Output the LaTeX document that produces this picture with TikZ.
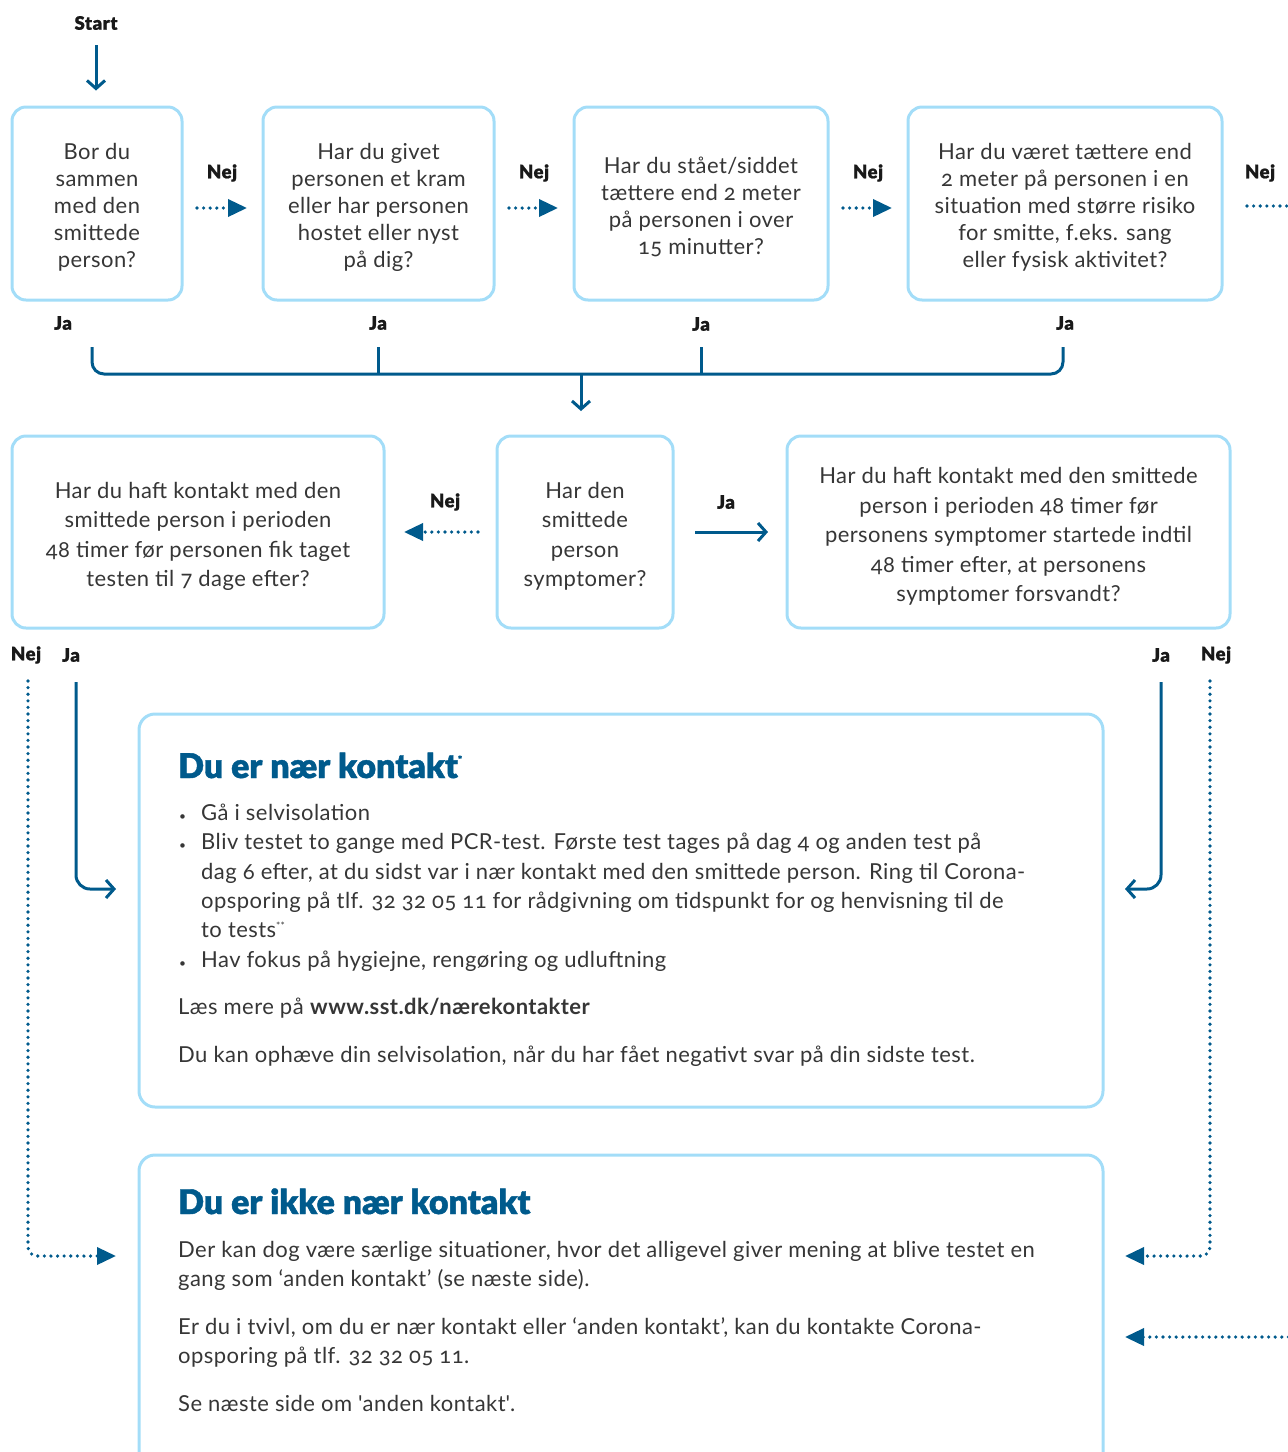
\documentclass[tikz,border=0pt]{standalone}
\usepackage{fontspec}
\setmainfont{Lato}[Numbers=OldStyle, LetterSpace=2]
\newfontfamily\heavyfont{Lato}[UprightFont={* Black}, FakeBold=1.3, Numbers=OldStyle]
\newfontfamily\lblfont{Lato}[UprightFont={* Black}, FakeBold=1.0, LetterSpace=3]
\usetikzlibrary{arrows.meta}
\definecolor{dblue}{HTML}{005A8C}
\definecolor{lblue}{HTML}{A3DDF8}
\definecolor{txt}{HTML}{363636}
\newcommand\tst{\rule{0pt}{24pt}}
\newcommand\tstb{\rule{0pt}{25pt}}
\begin{document}
\begin{tikzpicture}[x=1pt,y=-1pt,
 qbox/.style={draw=lblue, line width=3pt, rounded corners=14pt, align=center, text=txt, inner sep=0pt, font=\fontsize{22}{27}\selectfont},
 qbox2/.style={qbox, font=\fontsize{22}{29.5}\selectfont},
 bigbox/.style={draw=lblue, line width=3pt, rounded corners=16pt, inner sep=0pt},
 lbl/.style={font=\lblfont\fontsize{18.5}{20}\selectfont, text=black!90, inner sep=0pt},
 dotline/.style={dblue, line width=3.6pt, dash pattern=on 0pt off 6.6pt, line cap=round},
 dots/.style={dotline, -{Triangle[length=19pt,width=17pt]}},
 sol/.style={dblue, line width=3pt, -{Straight Barb[length=8pt,width=18pt]}},
 ln/.style={anchor=base west, inner sep=0pt, text=txt, font=\fontsize{22}{24}\selectfont},
 ttl/.style={anchor=base west, inner sep=0pt, text=dblue, font=\heavyfont\fontsize{34}{38}\selectfont},
]
\useasboundingbox (0,0) rectangle (1288,1452);

% ---- top row
\node[lbl] (start) at (96,23) {Start};
\node[qbox, minimum width=170pt, minimum height=193pt] (b1) at (97,203.5) {\tst Bor du\\sammen\\med den\\smittede\\person?};
\node[qbox, minimum width=231pt, minimum height=193pt] (b2) at (378.5,203.5) {\tst Har du givet\\personen et kram\\eller har personen\\hostet eller nyst\\på dig?};
\node[qbox, minimum width=254pt, minimum height=193pt] (b3) at (701,203.5) {\tst Har du stået/siddet\\tættere end 2 meter\\på personen i over\\15 minutter?};
\node[qbox, minimum width=314pt, minimum height=193pt] (b4) at (1065,203.5) {\tst Har du været tættere end\\2 meter på personen i en\\situation med større risiko\\for smitte, f.eks. sang\\eller fysisk aktivitet?};

\coordinate (s0) at (96,45);
\draw[sol] (s0) -- ([yshift=15pt]b1.north -| s0);

\node[lbl] (n1) at (222,173) {Nej};
\node[lbl] (n2) at (534,173) {Nej};
\node[lbl] (n3) at (868,173) {Nej};
\node[lbl] (n4) at (1260,173) {Nej};
\draw[dots] ([xshift=13.5pt,yshift=-4.5pt]b1.east) -- ([xshift=-14.5pt,yshift=-4.5pt]b2.west);
\draw[dots] ([xshift=13.5pt,yshift=-4.5pt]b2.east) -- ([xshift=-14.5pt,yshift=-4.5pt]b3.west);
\draw[dots] ([xshift=13.5pt,yshift=-4.5pt]b3.east) -- ([xshift=-14.5pt,yshift=-4.5pt]b4.west);
\coordinate (offr) at (1295,206);
\draw[dotline] ([xshift=23.5pt,yshift=-2.5pt]b4.east) -- (offr);

\node[lbl] (j1) at (63,323) {Ja};
\node[lbl] (j2) at (378,323) {Ja};
\node[lbl] (j3) at (701,324) {Ja};
\node[lbl] (j4) at (1065,323) {Ja};

\coordinate (ja1) at (92,347);
\coordinate (ja2) at (378,347);
\coordinate (ja3) at (701,347);
\coordinate (ja4) at (1063,347);
\coordinate (br) at (581,374);
\coordinate (brend) at (581,411);
\draw[dblue, line width=3pt, rounded corners=12pt] (ja1) -- (92,374) -- (1063,374) -- (ja4);
\draw[dblue, line width=3pt] (ja2) -- (378,374);
\draw[dblue, line width=3pt] (ja3) -- (701,374);

% ---- second row
\node[qbox2, minimum width=372pt, minimum height=192pt] (bl) at (198,532) {\tstb Har du haft kontakt med den\\smittede person i perioden\\48 timer før personen fik taget\\testen til 7 dage efter?};
\node[qbox2, minimum width=176pt, minimum height=192pt] (bm) at (585,532) {\tstb Har den\\smittede\\person\\symptomer?};
\node[qbox2, minimum width=443pt, minimum height=192pt] (bR) at (1008.5,532) {\tstb Har du haft kontakt med den smittede\\person i perioden 48 timer før\\personens symptomer startede indtil\\48 timer efter, at personens\\symptomer forsvandt?};

\draw[sol] (br) -- (brend);
\node[lbl] (n5) at (445,502) {Nej};
\node[lbl] (j5) at (726,502) {Ja};
\draw[dots] ([xshift=-17.5pt]bm.west) -- ([xshift=18.5pt]bl.east);
\draw[sol] ([xshift=20.5pt]bm.east) -- ([xshift=-17.5pt]bR.west);

\node[lbl] (n6) at (26,655) {Nej};
\node[lbl] (j6) at (71,655) {Ja};
\node[lbl] (j7) at (1161,655) {Ja};
\node[lbl] (n7) at (1216,655) {Nej};

% ---- result boxes
\node[bigbox, minimum width=964pt, minimum height=393pt] (k1) at (621,910.5) {};
\node[bigbox, minimum width=964pt, minimum height=320pt] (k2) at (621,1315) {};

\coordinate (nl) at (28,681);
\coordinate (nlend) at (116,1256);
\coordinate (jl) at (76,682);
\coordinate (jlend) at (116,889);
\coordinate (jr) at (1161,682);
\coordinate (jrend) at (1125,889);
\coordinate (nr) at (1210,681);
\coordinate (nrend) at (1125,1256);
\coordinate (offr2) at (1295,1337);
\coordinate (k2in) at (1125,1337);
\draw[dots, rounded corners=9pt] (nl) |- (nlend);
\draw[sol, rounded corners=14pt] (jl) |- (jlend);
\draw[sol, rounded corners=14pt] (jr) |- (jrend);
\draw[dots, rounded corners=9pt] (nr) |- (nrend);
\draw[dots] (offr2) -- (k2in);

% ---- text of box 1
\node[ttl] (t1) at (178,778) {Du er nær kontakt\raisebox{15pt}{\fontsize{10}{10}\selectfont *}};
\node[ln] (u1) at (179,820) {\fontsize{12}{12}\selectfont •};
\node[ln] (u2) at (179,849.5) {\fontsize{12}{12}\selectfont •};
\node[ln] (u3) at (179,967) {\fontsize{12}{12}\selectfont •};
\node[ln] (l1) at (201,820) {Gå i selvisolation};
\node[ln] (l2) at (201,849.5) {Bliv testet to gange med PCR-test. Første test tages på dag 4 og anden test på};
\node[ln] (l3) at (201,879) {dag 6 efter, at du sidst var i nær kontakt med den smittede person. Ring til Corona-};
\node[ln] (l4) at (201,908) {opsporing på tlf. 32 32 05 11 for rådgivning om tidspunkt for og henvisning til de};
\node[ln] (l5) at (201,937.5) {to tests\raisebox{8pt}{\fontsize{10}{10}\selectfont **}};
\node[ln] (l6) at (201,967) {Hav fokus på hygiejne, rengøring og udluftning};
\node[ln] (l7) at (178,1014) {Læs mere på \textbf{www.sst.dk/nærekontakter}};
\node[ln] (l8) at (178,1062) {Du kan ophæve din selvisolation, når du har fået negativt svar på din sidste test.};

% ---- text of box 2
\node[ttl] (t2) at (178,1214) {Du er ikke nær kontakt};
\node[ln] (m1) at (178,1257) {Der kan dog være særlige situationer, hvor det alligevel giver mening at blive testet en};
\node[ln] (m2) at (178,1286) {gang som ‘anden kontakt’ (se næste side).};
\node[ln] (m3) at (178,1334) {Er du i tvivl, om du er nær kontakt eller ‘anden kontakt’, kan du kontakte Corona-};
\node[ln] (m4) at (178,1363) {opsporing på tlf. 32 32 05 11.};
\node[ln] (m5) at (178,1411) {Se næste side om \textquotesingle anden kontakt\textquotesingle.};
\end{tikzpicture}
\end{document}
